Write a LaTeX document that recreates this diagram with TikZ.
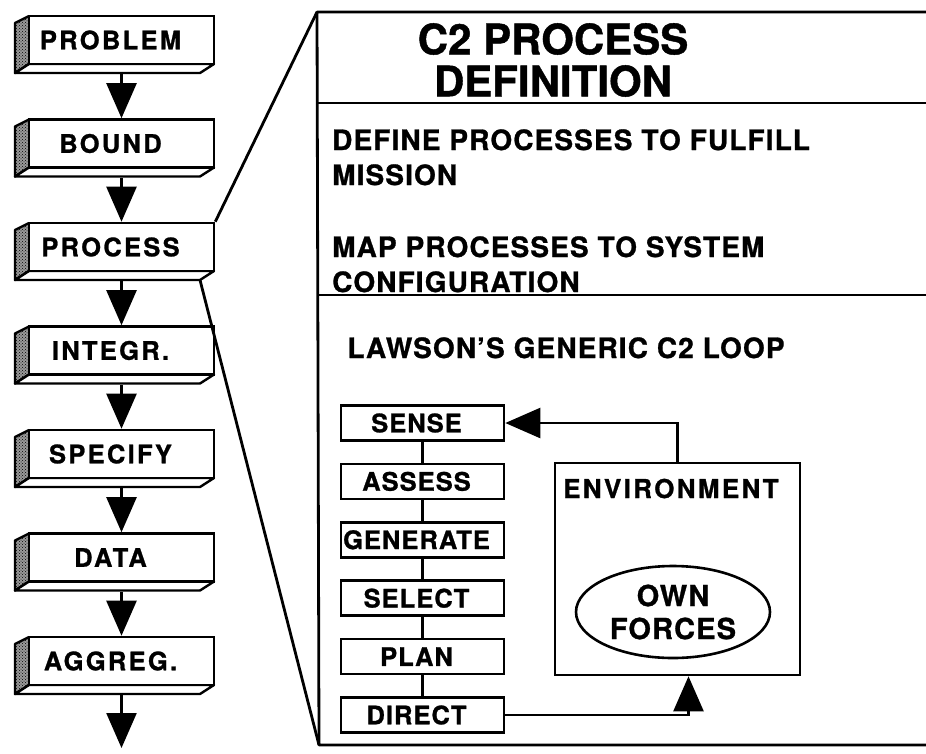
\documentclass[tikz,border=0pt]{standalone}
\usepackage{fontspec}
\setmainfont{TeX Gyre Heros}[BoldFeatures={FakeBold=1}]
\usetikzlibrary{arrows.meta,patterns,shapes.geometric,calc}
\newcommand\fsz[2]{\fontsize{#1}{#2}\selectfont\bfseries}
\newcommand\lsp[1]{\addfontfeature{LetterSpace=#1}}
\tikzset{
  edge/.style={line width=2.4pt, line join=round},
  fbox/.style={draw, line width=2.6pt, fill=white, minimum width=185pt, minimum height=48pt, inner sep=0pt},
  ftext/.style={inner sep=0pt, font=\fsz{25.5}{27}\lsp{9}},
  lbox/.style={draw, line width=2.6pt, fill=white, minimum width=163pt, minimum height=35pt, inner sep=0pt},
  ltext/.style={inner sep=0pt, font=\fsz{25.5}{27}\lsp{4}},
  bighead/.tip={Triangle[length=35pt,width=30pt]},
  arr/.style={line width=2.4pt, -bighead},
  link/.style={line width=2.2pt},
  panel/.style={line width=2.8pt, line join=round},
  ptext/.style={anchor=base west, inner sep=0pt, font=\fsz{28}{30}\lsp{4}}
}
\newcommand\flowbox[3]{%
  \fill[black!40] (29,#2-24) -- (29,#2+24) -- (15,#2+33) -- (15,#2-17) -- cycle;
  \fill[pattern=crosshatch dots, pattern color=black] (29,#2-24) -- (29,#2+24) -- (15,#2+33) -- (15,#2-17) -- cycle;
  \draw[edge] (29,#2-24) -- (15,#2-17) -- (15,#2+33) -- (29,#2+24);
  \draw[edge, fill=white] (29,#2+24) -- (214,#2+24) -- (200,#2+33) -- (15,#2+33) -- cycle;
  \node[fbox] (#1) at (121.5,#2) {};
  \node[ftext] (#1-t) at ([xshift=-11pt]#1.center) {#3};
}
\newcommand\loopbox[3]{%
  \node[lbox] (#1) at (422.5,#2) {};
  \node[ltext] (#1-t) at ([xshift=-6pt]#1.center) {#3};
}
\begin{document}
\begin{tikzpicture}[x=1pt,y=-1pt]
\useasboundingbox (0,0) rectangle (926,753);

% left flow
\flowbox{problem}{40}{PROBLEM}
\flowbox{bound}{143.5}{BOUND}
\flowbox{process}{247}{PROCESS}
\flowbox{integr}{350.5}{INTEGR.}
\flowbox{specify}{454}{SPECIFY}
\flowbox{data}{557.5}{DATA}
\flowbox{aggreg}{661}{AGGREG.}
\coordinate (flowend) at (121.5,748);

\draw[arr] ([yshift=-9pt]problem.south) -- (bound.north);
\draw[arr] ([yshift=-9pt]bound.south) -- (process.north);
\draw[arr] ([yshift=-9pt]process.south) -- (integr.north);
\draw[arr] ([yshift=-9pt]integr.south) -- (specify.north);
\draw[arr] ([yshift=-9pt]specify.south) -- (data.north);
\draw[arr] ([yshift=-9pt]data.south) -- (aggreg.north);
\draw[arr] ([yshift=-9pt]aggreg.south) -- (flowend);

% panel
\coordinate (ptl) at (317,12);
\coordinate (pbl) at (319,745);
\coordinate (procbot) at (200,280);
\draw[panel] (926,12) -- (ptl) -- (pbl) -- (926,745);
\draw[panel] (317,103) -- (926,103);
\draw[panel] (318,295) -- (926,295);
\draw[panel] (process.north east) -- (ptl);
\draw[panel] (procbot) -- (pbl);

\node[font=\fsz{42}{42}, align=center, inner sep=0pt] (title) at (553,60) {C2 PROCESS\\DEFINITION};
\node[ptext] (t1) at (332,150) {DEFINE PROCESSES TO FULFILL};
\node[ptext] (t2) at (332,185) {MISSION};
\node[ptext] (t3) at (332,257) {MAP PROCESSES TO SYSTEM};
\node[ptext] (t4) at (332,292) {CONFIGURATION};
\node[ptext, anchor=base] (lawson) at (566,358) {LAWSON'S GENERIC C2 LOOP};

% loop
\loopbox{sense}{423}{SENSE}
\loopbox{assess}{481.4}{ASSESS}
\loopbox{generate}{539.8}{GENERATE}
\loopbox{select}{598.2}{SELECT}
\loopbox{plan}{656.6}{PLAN}
\loopbox{direct}{715}{DIRECT}
\draw[link] (sense) -- (assess);
\draw[link] (assess) -- (generate);
\draw[link] (generate) -- (select);
\draw[link] (select) -- (plan);
\draw[link] (plan) -- (direct);

\node[draw, line width=2.6pt, minimum width=245pt, minimum height=212pt, inner sep=0pt] (env) at (677.5,569) {};
\node[anchor=base west, inner sep=0pt, font=\fsz{26}{28}\lsp{9}] (envtext) at (563,498) {ENVIRONMENT};
\node[ellipse, draw, line width=2.6pt, minimum width=194pt, minimum height=92pt, inner sep=0pt, align=center, font=\fsz{29}{33}\lsp{4}] (own) at (673,612) {OWN\\FORCES};

\draw[arr] (env.north) |- (sense.east);
\draw[arr] (direct.east) -| ([xshift=11pt]env.south);
\end{tikzpicture}
\end{document}
